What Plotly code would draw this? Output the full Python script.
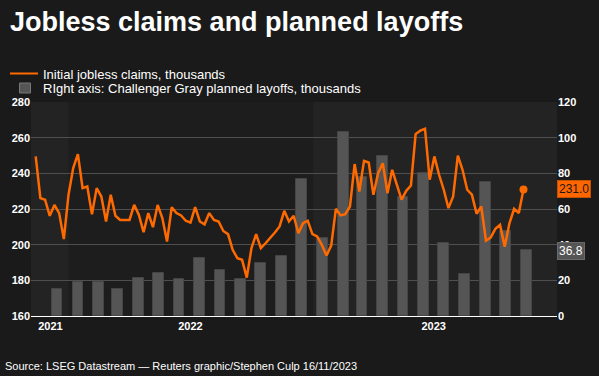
import pandas as pd
import plotly.graph_objects as go

# ---- data ----
claims = [249.5, 226.1, 225.2, 216.2, 222.3, 217.7, 203.1, 228.0, 243.0, 250.8,
          231.7, 232.6, 217.0, 231.7, 227.0, 213.0, 228.0, 216.2, 213.9, 213.9,
          213.9, 222.3, 216.7, 207.0, 217.7, 209.8, 222.3, 214.9, 201.8, 221.0,
          217.7, 216.4, 213.4, 212.4, 221.0, 213.0, 211.4, 217.7, 213.9, 213.0,
          207.7, 205.9, 197.1, 192.4, 191.5, 181.5, 198.0, 205.9, 198.0, 200.8,
          203.6, 206.8, 210.2, 219.0, 213.0, 216.2, 206.4, 212.0, 213.4, 205.9,
          204.6, 199.9, 193.9, 199.5, 220.1, 216.4, 217.1, 221.4, 245.2, 229.8,
          247.0, 246.1, 228.0, 240.1, 245.7, 228.9, 242.0, 233.6, 225.2, 230.2,
          233.2, 262.0, 263.9, 265.0, 236.4, 249.5, 239.2, 230.8, 220.5, 227.0,
          249.9, 242.0, 230.8, 228.0, 217.3, 221.4, 202.3, 204.0, 208.9, 211.1,
          198.9, 212.0, 220.1, 217.7, 231.0]
claim_weeks = pd.date_range(end="2023-11-11", periods=len(claims), freq="7D")

layoffs = [14.9, 19.1, 19.1, 15.2, 21.4, 24.3, 20.7, 32.5, 25.8, 20.8,
           30.0, 33.8, 76.8, 43.7, 102.9, 77.8, 89.7, 67.0, 80.1, 40.7,
           23.7, 75.2, 47.5, 36.8]
layoff_months = pd.date_range(start="2021-11-15", periods=len(layoffs), freq="MS") + pd.Timedelta(days=14)

year_labels = ["2021", "2022", "2023"]
year_label_pos = ["2021-12-05", "2022-07-02", "2023-06-30"]

title = "Jobless claims and planned layoffs"
legend_line = "Initial jobless claims, thousands"
legend_bar = "RIght axis: Challenger Gray planned layoffs, thousands"
source = "Source: LSEG Datastream \u2014 Reuters graphic/Stephen Culp 16/11/2023"

# ---- layout helpers ----
W, H = 599, 376
L, R, T, B = 31, 42, 102, 60
PW, PH = W - L - R, H - T - B


def px(x):
    return (x - L) / PW


def py(y):
    return (H - B - y) / PH


ORANGE = "#ff6a00"
BAR = "#555555"
FONT = "Liberation Sans, Arial, sans-serif"

fig = go.Figure()

fig.add_trace(go.Bar(
    x=layoff_months, y=layoffs, yaxis="y",
    width=16 * 86400000,
    marker=dict(color=BAR, line=dict(color="#454545", width=1)),
    showlegend=False, hoverinfo="skip",
))

fig.add_trace(go.Scatter(
    x=claim_weeks, y=claims, yaxis="y2", mode="lines",
    line=dict(color=ORANGE, width=2.5), showlegend=False,
))
fig.add_trace(go.Scatter(
    x=[claim_weeks[-1]], y=[claims[-1]], yaxis="y2", mode="markers",
    marker=dict(color=ORANGE, size=8), showlegend=False,
))

shapes = [
    dict(type="rect", xref="x", yref="paper", x0="2021-11-06", x1="2022-01-01",
         y0=0, y1=1, fillcolor="#232323", line=dict(width=0), layer="below"),
    dict(type="rect", xref="x", yref="paper", x0="2023-01-01", x1="2023-12-31",
         y0=0, y1=1, fillcolor="#232323", line=dict(width=0), layer="below"),
    # legend line sample
    dict(type="line", xref="paper", yref="paper", x0=px(10), x1=px(38),
         y0=py(73.5), y1=py(73.5), line=dict(color=ORANGE, width=2)),
    # legend bar sample
    dict(type="rect", xref="paper", yref="paper", x0=px(19.5), x1=px(30.5),
         y0=py(93), y1=py(83), fillcolor=BAR, line=dict(color="#777777", width=1)),
]

annotations = [
    dict(text="<b>" + title + "</b>", xref="paper", yref="paper", x=px(8), y=py(22),
         xanchor="left", yanchor="middle", showarrow=False,
         font=dict(family=FONT, size=27, color="white")),
    dict(text=legend_line, xref="paper", yref="paper", x=px(41), y=py(74.5),
         xanchor="left", yanchor="middle", showarrow=False,
         font=dict(family=FONT, size=13, color="white")),
    dict(text=legend_bar, xref="paper", yref="paper", x=px(41), y=py(88),
         xanchor="left", yanchor="middle", showarrow=False,
         font=dict(family=FONT, size=13, color="white")),
    dict(text=source, xref="paper", yref="paper", x=px(3), y=py(366),
         xanchor="left", yanchor="middle", showarrow=False,
         font=dict(family=FONT, size=11, color="white")),
    dict(text=f"{claims[-1]:.1f}", xref="paper", yref="y2", x=1, y=claims[-1],
         xanchor="left", yanchor="middle", xshift=0, showarrow=False,
         bgcolor="#ff6600", bordercolor="#c45000", borderwidth=1, borderpad=1,
         font=dict(family=FONT, size=12, color="#1a1a1a")),
    dict(text=f"{layoffs[-1]:.1f}", xref="paper", yref="y", x=1, y=layoffs[-1],
         xanchor="left", yanchor="middle", xshift=0, yshift=-1, showarrow=False,
         bgcolor="#555555", bordercolor="#6a6a6a", borderwidth=1, borderpad=1,
         font=dict(family=FONT, size=12, color="white")),
]

fig.update_layout(
    width=W, height=H,
    margin=dict(l=L, r=R, t=T, b=B),
    paper_bgcolor="#1a1a1a", plot_bgcolor="#1d1d1d",
    font=dict(family=FONT, color="white"),
    bargap=0,
    showlegend=False,
    xaxis=dict(
        type="date", range=["2021-11-06", "2023-12-31"],
        tickvals=year_label_pos, ticktext=year_labels,
        ticks="", showgrid=False, zeroline=False,
        showline=True, linecolor="white", linewidth=1, layer="below traces",
        tickfont=dict(family=FONT, size=11, color="white", weight="bold"),
    ),
    yaxis=dict(
        side="right", range=[0, 120], dtick=20,
        showgrid=True, gridcolor="#4f4f4f", gridwidth=1, zeroline=False,
        ticks="", tickfont=dict(family=FONT, size=11, color="white", weight="bold"),
    ),
    yaxis2=dict(
        side="left", overlaying="y", range=[160, 280], dtick=20,
        showgrid=False, zeroline=False, ticks="",
        tickfont=dict(family=FONT, size=11, color="white", weight="bold"),
    ),
    shapes=shapes,
    annotations=annotations,
)

fig.write_html(
    "out.html",
    config={"displayModeBar": False},
    post_script="document.body.style.margin='0';document.body.style.background='#1a1a1a';",
)
